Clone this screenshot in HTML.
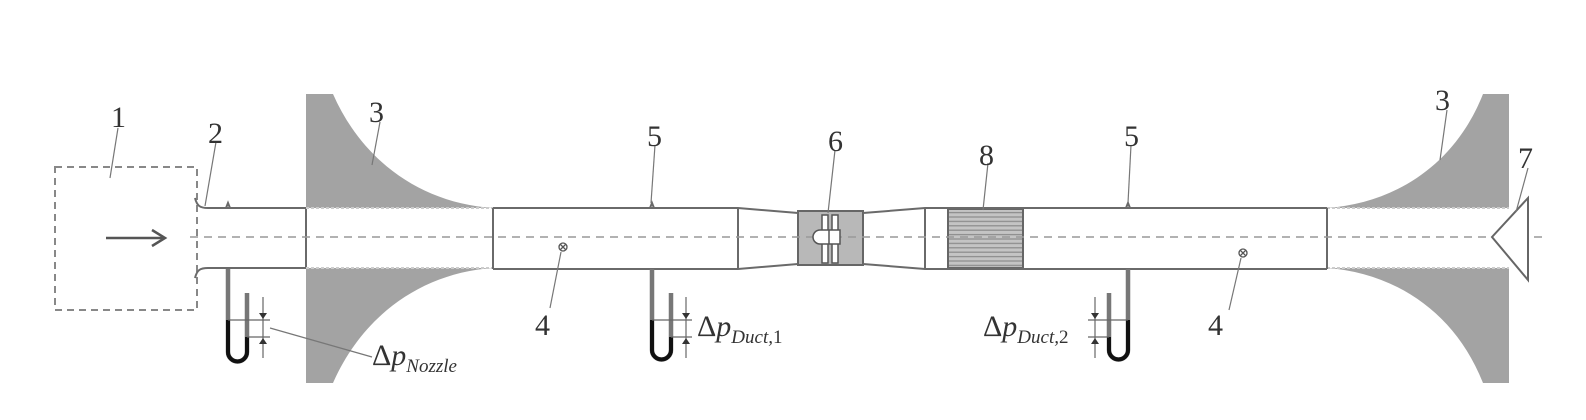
<!DOCTYPE html>
<html><head><meta charset="utf-8"><style>
html,body{margin:0;padding:0;background:#fff;}
svg{display:block;}
text{font-family:"Liberation Serif",serif;fill:#333;}
</style></head><body>
<svg width="1586" height="420" viewBox="0 0 1586 420">
<defs>
<pattern id="hc" width="10" height="4.4" patternUnits="userSpaceOnUse" y="209">
<rect width="10" height="4.4" fill="#c4c4c4"/><rect y="3" width="10" height="1.2" fill="#8a8a8a"/>
</pattern>
</defs>
<g stroke="#666" stroke-width="2" fill="none">
<!-- settling chamber -->
<rect x="55" y="167" width="142" height="143" stroke="#888" stroke-dasharray="7,5"/>
</g>
<!-- arrow -->
<g stroke="#555" stroke-width="2.5" fill="none">
<line x1="106" y1="238" x2="164" y2="238"/><path d="M152,230 L165,238 L152,246"/>
</g>
<!-- diffusers -->
<path d="M306,94 H333 C362,160 420,203 493,208 H306 Z" fill="#a3a3a3"/>
<path d="M306,383 H333 C362,317 420,273 493,268 H306 Z" fill="#a3a3a3"/>
<path d="M1509,94 H1483 C1455,165 1395,203 1327,208 H1509 Z" fill="#a3a3a3"/>
<path d="M1509,383 H1483 C1455,312 1395,273 1327,268 H1509 Z" fill="#a3a3a3"/>
<!-- fan hub box & honeycomb -->
<rect x="798" y="211" width="65" height="54" fill="#b8b8b8" stroke="#666" stroke-width="2"/>
<rect x="948" y="209" width="75" height="59" fill="url(#hc)" stroke="#666" stroke-width="2"/>
<!-- duct outlines -->
<g stroke="#6a6a6a" stroke-width="2" fill="none">
<path d="M195,198 C197,206 200,208 208,208 H306"/>
<path d="M195,278 C197,270 200,268 208,268 H306"/>
<line x1="306" y1="208" x2="306" y2="268"/>
<line x1="306" y1="208" x2="493" y2="208" stroke="#ccc" stroke-dasharray="3,2"/>
<line x1="306" y1="268" x2="493" y2="268" stroke="#ccc" stroke-dasharray="3,2"/>
<line x1="1327" y1="208" x2="1509" y2="208" stroke="#ccc" stroke-dasharray="3,2"/>
<line x1="1327" y1="268" x2="1509" y2="268" stroke="#ccc" stroke-dasharray="3,2"/>
<path d="M493,208 H738 L798,213 M863,213 L925,208 H1327"/>
<path d="M493,269 H738 L798,264 M863,264 L925,269 H1327"/>
<line x1="493" y1="208" x2="493" y2="269"/>
<line x1="738" y1="208" x2="738" y2="269"/>
<line x1="925" y1="208" x2="925" y2="269"/>
<line x1="1327" y1="208" x2="1327" y2="269"/>
<path d="M226,208 l2,-5 l2,5 M650,208 l2,-5 l2,5 M1126,208 l2,-5 l2,5"/>
</g>
<!-- centerline -->
<line x1="190" y1="237" x2="1542" y2="237" stroke="#999" stroke-width="1.5" stroke-dasharray="8,6"/>
<!-- fan -->
<g stroke="#555" stroke-width="1.5" fill="#fff">
<rect x="822" y="215" width="6" height="48"/><rect x="832" y="215" width="6" height="48"/>
<path d="M820,230 H840 V244 H820 A7,7 0 0 1 820,230 Z"/>
<line x1="829" y1="230" x2="829" y2="244"/>
</g>
<!-- cone 7 -->
<path d="M1528,198 L1492,237 L1528,280 Z" fill="#fff" stroke="#666" stroke-width="2"/>
<!-- probes 4 -->
<g stroke="#555" stroke-width="1.3" fill="none">
<circle cx="563" cy="247" r="4"/><path d="M560,244 l6,6 M566,244 l-6,6"/>
<circle cx="1243" cy="253" r="4"/><path d="M1240,250 l6,6 M1246,250 l-6,6"/>
</g>
<!-- manometers -->
<g>
<path d="M228,269 V352 a9.5,9.5 0 0 0 19,0 V293" stroke="#777" stroke-width="4.5" fill="none"/>
<path d="M228,320 V352 a9.5,9.5 0 0 0 19,0 V337" stroke="#111" stroke-width="4" fill="none"/>
<g stroke="#666" stroke-width="1.2"><line x1="228" y1="320" x2="270" y2="320"/><line x1="247" y1="337" x2="270" y2="337"/><line x1="263" y1="297" x2="263" y2="358"/></g>
<path d="M259,313 h8 l-4,6 z M259,344 h8 l-4,-6 z" fill="#333"/>
</g>
<g>
<path d="M652,269 V350 a9.5,9.5 0 0 0 19,0 V293" stroke="#777" stroke-width="4.5" fill="none"/>
<path d="M652,320 V350 a9.5,9.5 0 0 0 19,0 V337" stroke="#111" stroke-width="4" fill="none"/>
<g stroke="#666" stroke-width="1.2"><line x1="652" y1="320" x2="692" y2="320"/><line x1="671" y1="337" x2="692" y2="337"/><line x1="686" y1="297" x2="686" y2="358"/></g>
<path d="M682,313 h8 l-4,6 z M682,344 h8 l-4,-6 z" fill="#333"/>
</g>
<g>
<path d="M1128,269 V350 a9.5,9.5 0 0 1 -19,0 V293" stroke="#777" stroke-width="4.5" fill="none"/>
<path d="M1128,320 V350 a9.5,9.5 0 0 1 -19,0 V337" stroke="#111" stroke-width="4" fill="none"/>
<g stroke="#666" stroke-width="1.2"><line x1="1088" y1="320" x2="1128" y2="320"/><line x1="1088" y1="337" x2="1109" y2="337"/><line x1="1095" y1="297" x2="1095" y2="358"/></g>
<path d="M1091,313 h8 l-4,6 z M1091,344 h8 l-4,-6 z" fill="#333"/>
</g>
<!-- leader lines -->
<g stroke="#777" stroke-width="1.2">
<line x1="118" y1="128" x2="110" y2="178"/>
<line x1="216" y1="142" x2="205" y2="206"/>
<line x1="380" y1="122" x2="372" y2="165"/>
<line x1="655" y1="145" x2="651" y2="203"/>
<line x1="835" y1="150" x2="828" y2="213"/>
<line x1="988" y1="163" x2="983" y2="210"/>
<line x1="1131" y1="145" x2="1128" y2="203"/>
<line x1="1447" y1="110" x2="1440" y2="160"/>
<line x1="1528" y1="168" x2="1516" y2="212"/>
<line x1="550" y1="308" x2="561" y2="252"/>
<line x1="1229" y1="310" x2="1241" y2="258"/>
<line x1="270" y1="328" x2="372" y2="357"/>
</g>
<!-- labels -->
<g font-size="30">
<text x="111" y="127">1</text>
<text x="208" y="143">2</text>
<text x="369" y="122">3</text>
<text x="647" y="146">5</text>
<text x="828" y="151">6</text>
<text x="979" y="165">8</text>
<text x="1124" y="146">5</text>
<text x="1435" y="110">3</text>
<text x="1518" y="168">7</text>
<text x="535" y="335">4</text>
<text x="1208" y="335">4</text>
</g>
<g font-size="30" font-style="italic">
<text x="372" y="365"><tspan font-style="normal">Δ</tspan>p<tspan font-size="19" dy="7">Nozzle</tspan></text>
<text x="697" y="336"><tspan font-style="normal">Δ</tspan>p<tspan font-size="19" dy="7">Duct,</tspan><tspan font-size="19" font-style="normal">1</tspan></text>
<text x="983" y="336"><tspan font-style="normal">Δ</tspan>p<tspan font-size="19" dy="7">Duct,</tspan><tspan font-size="19" font-style="normal">2</tspan></text>
</g>
</svg>
</body></html>
